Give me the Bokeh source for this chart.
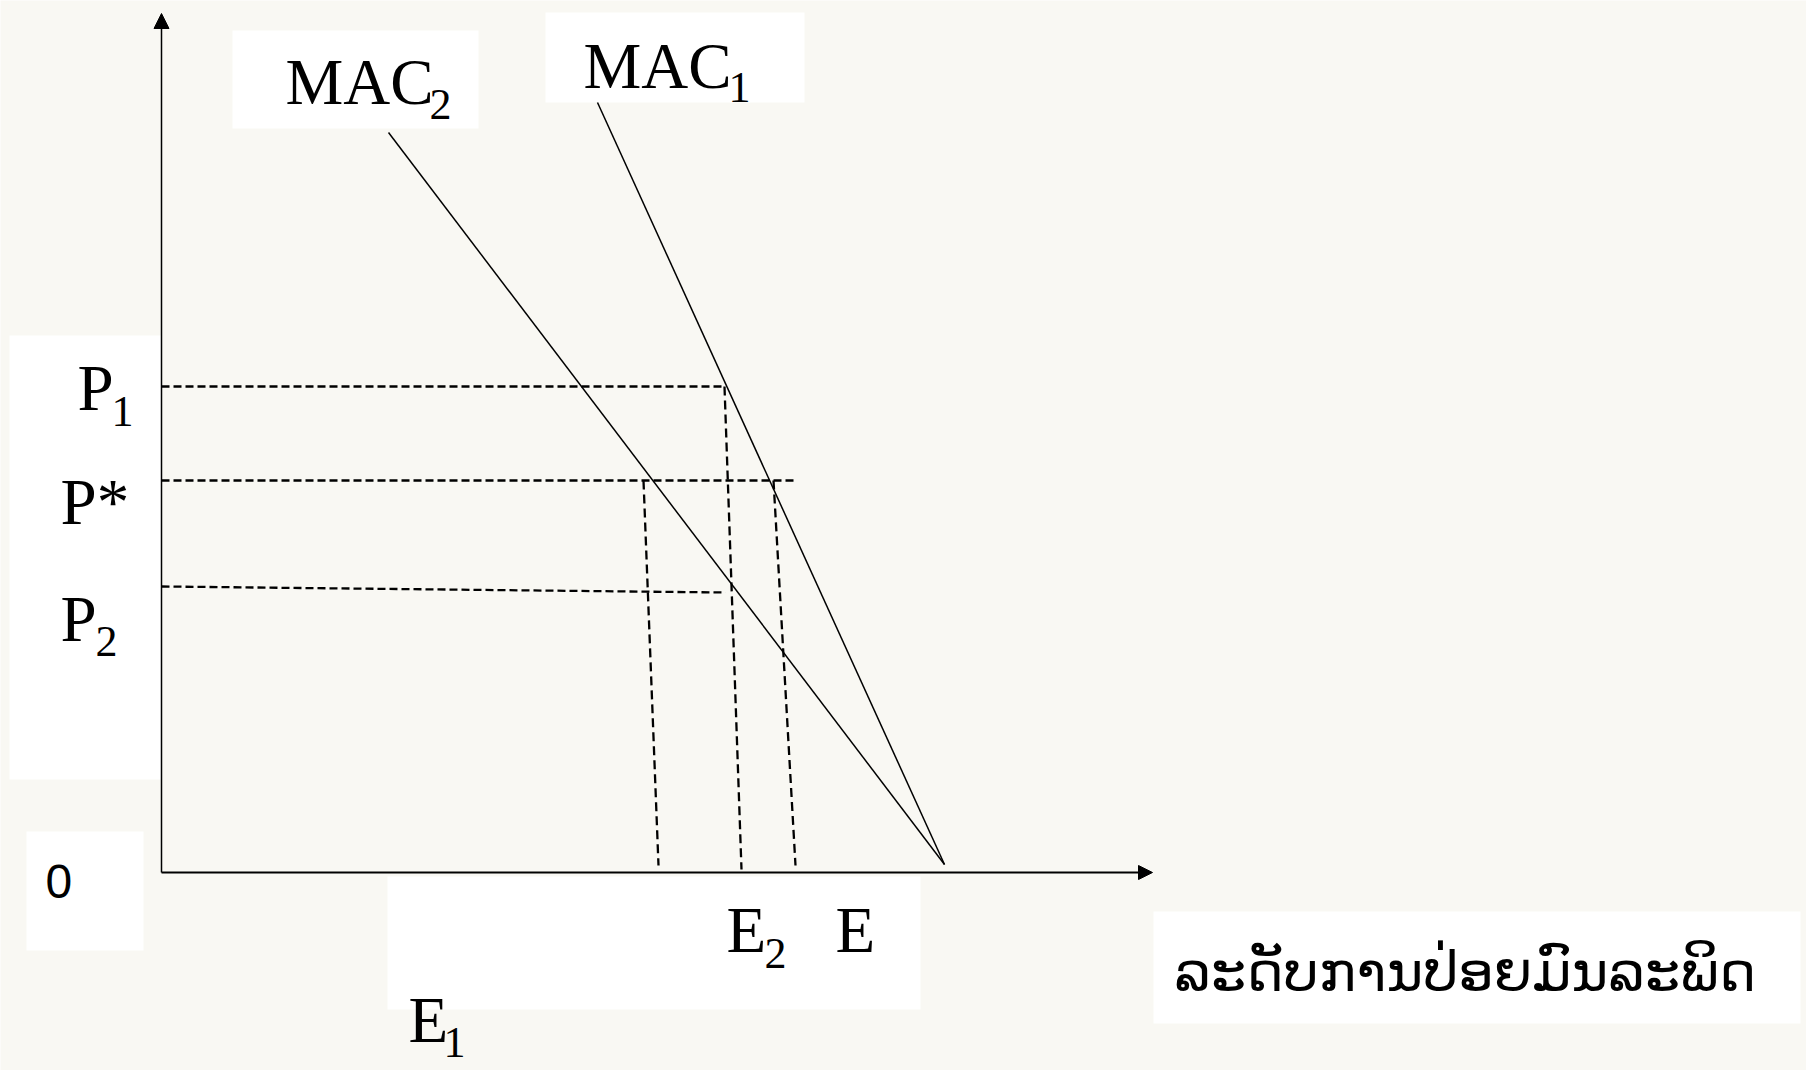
from bokeh.plotting import figure
from bokeh.models import Range1d, Arrow, NormalHead, BoxAnnotation
from bokeh.core.properties import value
from bokeh.embed import file_html
from bokeh.resources import INLINE

# ---- data (abatement-cost diagram, units) ----
# marginal abatement cost curves: [top point, point where they meet the emission axis]
mac1_x = [436, 783]
mac1_y = [770, 8]
mac2_x = [227, 783]
mac2_y = [740, 8]

# price levels P1, P*, P2 (horizontal dashed guides)
price_names = ["P1", "P*", "P2"]
h_x0 = [0, 0, 0]
h_y0 = [486, 392, 286]
h_x1 = [563, 634, 564]
h_y1 = [486, 392, 280]

# emission levels E1, E2, E (vertical dashed guides)
emission_names = ["E1", "E2", "E"]
v_x0 = [482, 563, 612]
v_y0 = [392, 486, 392]
v_x1 = [497, 580, 634]
v_y1 = [7, 3, 7]

axis_x_end = 991
axis_y_end = 859
x_title = "ລະດັບການປ່ອຍມົນລະພິດ"

BG = "#F9F8F3"
SERIF = "Liberation Serif"

p = figure(width=1806, height=1070, output_backend="svg", toolbar_location=None,
           x_range=Range1d(-161, 1645), y_range=Range1d(-198, 872),
           min_border=0, background_fill_color=BG, border_fill_color=BG)
p.axis.visible = False
p.grid.visible = False
p.outline_line_color = None

# white text boxes
for l, r, b, t in [(71, 317, 744, 842), (384, 643, 770, 860), (-152, 0, 93, 537),
                   (-135, -18, -78, 41), (226, 759, -137, -4), (992, 1639, -151, -39)]:
    p.add_layout(BoxAnnotation(left=l, right=r, bottom=b, top=t, fill_color="white",
                               fill_alpha=1.0, line_color=None, level="underlay"))

# axes with arrow heads
p.add_layout(Arrow(end=NormalHead(size=15, fill_color="black", line_color="black"),
                   x_start=0, y_start=0, x_end=0, y_end=axis_y_end,
                   line_width=1.5, line_color="black"))
p.add_layout(Arrow(end=NormalHead(size=14, fill_color="black", line_color="black"),
                   x_start=0, y_start=0, x_end=axis_x_end, y_end=0,
                   line_width=2.2, line_color="black"))

# dashed guides
p.segment(x0=h_x0, y0=h_y0, x1=h_x1, y1=h_y1, line_color="black", line_width=2.3, line_dash="8 4")
p.segment(x0=v_x0, y0=v_y0, x1=v_x1, y1=v_y1, line_color="black", line_width=2.3, line_dash="9 5")

# MAC curves
p.line(mac1_x, mac1_y, line_color="black", line_width=1.5)
p.line(mac2_x, mac2_y, line_color="black", line_width=1.5)


def label(x, y, txt, size, font=SERIF, shift=0.36):
    p.text(x=[x], y=[y + shift * size], text=[txt], text_font=value(font),
           text_font_size=f"{size}px", text_color="black",
           text_baseline="alphabetic", text_align="left")


# curve labels
label(124, 767, "MAC", 65)
label(268, 752, "2", 44)
label(422, 783, "MAC", 65)
label(567, 769, "1", 44)

# price labels
label(-84, 461, price_names[0][0], 65)
label(-50, 445, price_names[0][1], 44)
label(-101, 347, price_names[1], 65)
label(-101, 230, price_names[2][0], 65)
label(-66, 215, price_names[2][1], 44)

# origin
label(-116, -26, "0", 48, font="Liberation Sans")

# emission labels
label(565, -81, emission_names[1][0], 65)
label(603, -97, emission_names[1][1], 44)
label(674, -81, emission_names[2], 65)
label(247, -171, emission_names[0][0], 65)
label(282, -186, emission_names[0][1], 44)

# x-axis title (Lao)
label(1013, -116, x_title, 56, font="DejaVu Sans", shift=0.31)

open("out.html", "w").write(file_html(p, INLINE))
